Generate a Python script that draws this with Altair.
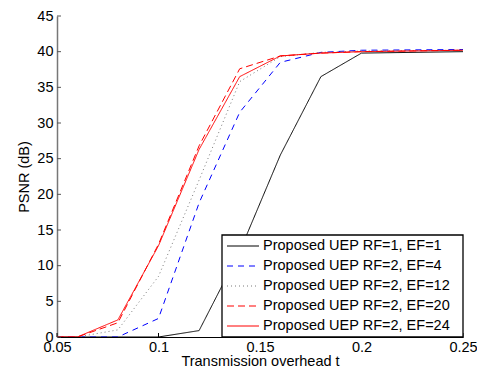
import altair as alt
import pandas as pd

# transmission overhead values (x)
overhead = [0.05, 0.06, 0.08, 0.10, 0.12, 0.14, 0.16, 0.18, 0.20, 0.25]

series_names = [
    "Proposed UEP RF=1, EF=1",
    "Proposed UEP RF=2, EF=4",
    "Proposed UEP RF=2, EF=12",
    "Proposed UEP RF=2, EF=20",
    "Proposed UEP RF=2, EF=24",
]

psnr_rf1_ef1 = [0.0, 0.0, 0.0, 0.0, 0.9, 12.0, 25.5, 36.5, 39.8, 40.0]
psnr_rf2_ef4 = [0.0, 0.0, 0.0, 2.6, 18.8, 31.5, 38.5, 39.9, 40.2, 40.3]
psnr_rf2_ef12 = [0.0, 0.0, 1.0, 8.5, 22.0, 35.8, 39.3, 39.9, 40.1, 40.2]
psnr_rf2_ef20 = [0.0, 0.0, 2.0, 13.0, 26.8, 37.6, 39.4, 39.8, 40.0, 40.2]
psnr_rf2_ef24 = [0.0, 0.0, 2.4, 12.8, 26.3, 36.5, 39.4, 39.8, 40.0, 40.2]

x_ticks = [0.05, 0.10, 0.15, 0.20, 0.25]
y_ticks = [0, 5, 10, 15, 20, 25, 30, 35, 40, 45]

colors = ["#000000", "#0000ff", "#7a7a7a", "#ff0000", "#ff0000"]
dashes = [[1, 0], [6, 5], [1, 3], [7, 4], [1, 0]]
widths = [1.0, 1.0, 1.2, 2.6, 1.0]

all_series = [psnr_rf1_ef1, psnr_rf2_ef4, psnr_rf2_ef12, psnr_rf2_ef20, psnr_rf2_ef24]
rows = []
for i, (name, vals) in enumerate(zip(series_names, all_series)):
    for x, y in zip(overhead, vals):
        rows.append({"series": name, "order": i, "t": x, "psnr": y})
df = pd.DataFrame(rows)
legend_df = pd.DataFrame({"series": series_names})

W, H = 406, 321
FONT = "Liberation Sans"

# legend box placement (style/layout, in view pixels)
LX0, LX1, LY0, LY1 = 165, 406, 219, 321
ROW_RANGE = [230, 310]

x_scale = alt.Scale(domain=[0.05, 0.25], nice=False, zero=False)
y_scale = alt.Scale(domain=[0, 45], nice=False)
color_scale = alt.Scale(domain=series_names, range=colors)
dash_scale = alt.Scale(domain=series_names, range=dashes)
width_scale = alt.Scale(domain=series_names, range=widths)
row_scale = alt.Scale(type="point", domain=series_names, range=ROW_RANGE, padding=0)

x_axis = alt.Axis(values=x_ticks, format=".2~f", title="Transmission overhead t",
                  ticks=False, grid=False, labelPadding=3, titlePadding=1,
                  labelOverlap=False, labelFlush=False,
                  domainColor="#000000", domainWidth=1)
y_axis = alt.Axis(values=y_ticks, title="PSNR (dB)", ticks=False, grid=False,
                  labelPadding=4, titlePadding=5, labelOverlap=False, labelFlush=False,
                  domainColor="#777777", domainWidth=1.5)

lines = alt.Chart(df).mark_line(clip=True).encode(
    x=alt.X("t:Q", scale=x_scale, axis=x_axis),
    y=alt.Y("psnr:Q", scale=y_scale, axis=y_axis),
    color=alt.Color("series:N", scale=color_scale, legend=None),
    strokeDash=alt.StrokeDash("series:N", scale=dash_scale, legend=None),
    strokeWidth=alt.StrokeWidth("series:N", scale=width_scale, legend=None),
    order="order:Q",
)

xt = pd.DataFrame({"t": x_ticks})
yt = pd.DataFrame({"psnr": y_ticks})

x_tick_marks = alt.Chart(xt).mark_rule(color="#000000", strokeWidth=1).encode(
    x=alt.X("t:Q", scale=x_scale, axis=x_axis), y=alt.value(H), y2=alt.value(H - 4))
y_tick_marks = alt.Chart(yt).mark_rule(color="#555555", strokeWidth=1).encode(
    y=alt.Y("psnr:Q", scale=y_scale, axis=None), x=alt.value(0), x2=alt.value(4))

legend_box = alt.Chart(pd.DataFrame({"k": [0]})).mark_rect(
    fill="#ffffff", stroke="#000000", strokeWidth=1.3).encode(
    x=alt.value(LX0), x2=alt.value(LX1), y=alt.value(LY0), y2=alt.value(LY1))

legend_syms = alt.Chart(legend_df).mark_rule().encode(
    y=alt.Y("series:N", scale=row_scale, axis=None),
    x=alt.value(LX0 + 5), x2=alt.value(LX0 + 37),
    color=alt.Color("series:N", scale=color_scale, legend=None),
    strokeDash=alt.StrokeDash("series:N", scale=dash_scale, legend=None),
    strokeWidth=alt.StrokeWidth("series:N", scale=width_scale, legend=None),
)

legend_text = alt.Chart(legend_df).mark_text(
    align="left", baseline="middle", font=FONT, fontSize=14.5, color="#000000").encode(
    y=alt.Y("series:N", scale=row_scale, axis=None),
    x=alt.value(LX0 + 41),
    text="series:N",
)

chart = alt.layer(lines, x_tick_marks, y_tick_marks, legend_box, legend_syms, legend_text).resolve_scale(
    y="independent"
).properties(
    width=W, height=H,
    autosize=alt.AutoSizeParams(type="none"),
    padding={"left": 49, "top": 8, "right": 14, "bottom": 34},
    background="#ffffff",
).configure_view(stroke=None).configure_axis(
    labelFont=FONT, titleFont=FONT, labelFontSize=14.5, titleFontSize=14.5,
    labelColor="#000000", titleColor="#000000", titleFontWeight="normal",
)

chart.save("out.html", embed_options={"renderer": "svg", "actions": False})
